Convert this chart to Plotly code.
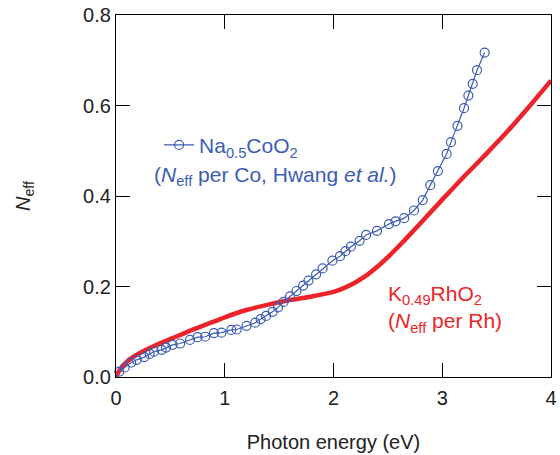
import plotly.graph_objects as go

# Na0.5CoO2 (Hwang et al.), N_eff per Co
na_x = [0.03, 0.08, 0.14, 0.19, 0.26, 0.31, 0.35, 0.42, 0.46, 0.52, 0.59, 0.68, 0.75,
        0.82, 0.90, 0.97, 1.06, 1.11, 1.20, 1.28, 1.33, 1.38, 1.44, 1.49, 1.54, 1.60,
        1.66, 1.72, 1.77, 1.84, 1.90, 1.99, 2.06, 2.11, 2.16, 2.24, 2.30, 2.40, 2.51,
        2.57, 2.65, 2.74, 2.82, 2.89, 2.96, 3.04, 3.08, 3.14, 3.20, 3.24, 3.28, 3.32, 3.39]
na_y = [0.012, 0.021, 0.032, 0.038, 0.044, 0.051, 0.056, 0.060, 0.065, 0.071, 0.074, 0.082, 0.088,
        0.089, 0.097, 0.098, 0.104, 0.105, 0.113, 0.120, 0.128, 0.135, 0.144, 0.154, 0.166, 0.178,
        0.190, 0.202, 0.213, 0.227, 0.240, 0.257, 0.267, 0.278, 0.288, 0.301, 0.314, 0.323, 0.338,
        0.344, 0.351, 0.368, 0.391, 0.424, 0.455, 0.493, 0.519, 0.555, 0.594, 0.622, 0.648, 0.678, 0.717]

# K0.49RhO2, N_eff per Rh
k_x = [0, 0.02, 0.05, 0.12, 0.25, 0.40, 0.55, 0.70, 0.86, 1.0, 1.2, 1.4, 1.6, 1.8, 2.0,
       2.1, 2.2, 2.3, 2.4, 2.5, 2.6, 2.7, 2.8, 2.9, 3.0, 3.2, 3.4, 3.6, 3.8, 4.0]
k_y = [0, 0.010, 0.020, 0.038, 0.057, 0.074, 0.089, 0.104, 0.119, 0.132, 0.148, 0.160, 0.170,
       0.178, 0.188, 0.197, 0.209, 0.224, 0.243, 0.265, 0.289, 0.314, 0.340, 0.366, 0.392,
       0.443, 0.492, 0.543, 0.598, 0.655]

x_ticks = [0, 1, 2, 3, 4]
y_ticks = [0.0, 0.2, 0.4, 0.6, 0.8]
y_tick_text = ["0.0", "0.2", "0.4", "0.6", "0.8"]

BLUE = "#3b5cb6"
RED = "#ec2329"
FONT = "Liberation Sans, Arial, Helvetica, sans-serif"

fig = go.Figure()
fig.add_trace(go.Scatter(
    x=k_x, y=k_y, mode="lines", line=dict(color=RED, width=4.5, shape="spline", smoothing=0.5),
    showlegend=False, cliponaxis=True))
fig.add_trace(go.Scatter(
    x=na_x, y=na_y, mode="lines+markers",
    name="Na<sub>0.5</sub>CoO<sub>2</sub>",
    line=dict(color=BLUE, width=1.2),
    marker=dict(symbol="circle-open", size=9, color=BLUE, line=dict(width=1.2, color=BLUE)),
    showlegend=True, cliponaxis=False))

fig.add_annotation(x=1.47, y=0.444, xref="x", yref="y",
                   text="(<i>N</i><sub>eff</sub> per Co, Hwang <i>et al.</i>)",
                   showarrow=False, font=dict(size=21, color=BLUE, family=FONT))
fig.add_annotation(x=2.48, y=0.150, xref="x", yref="y", xanchor="left", align="left",
                   text="K<sub>0.49</sub>RhO<sub>2</sub><br>(<i>N</i><sub>eff</sub> per Rh)",
                   showarrow=False, font=dict(size=21, color=RED, family=FONT))

axis_common = dict(showline=True, linecolor="black", linewidth=1.3, mirror="ticks",
                   ticks="inside", ticklen=14, tickwidth=1.3, tickcolor="black",
                   showgrid=False, zeroline=False, automargin=False,
                   tickfont=dict(size=20, color="#222", family=FONT))

fig.update_xaxes(range=[0, 4], tickvals=x_ticks, ticktext=[str(v) for v in x_ticks],
                 ticklabelstandoff=3,
                 title=dict(text="Photon energy (eV)", font=dict(size=20, color="#222", family=FONT),
                            standoff=26),
                 **axis_common)
fig.update_yaxes(range=[0, 0.8], tickvals=y_ticks, ticktext=y_tick_text,
                 title=dict(text="<i>N</i><sub>eff</sub>", font=dict(size=20, color="#222", family=FONT),
                            standoff=47),
                 **axis_common)

fig.update_layout(
    width=560, height=455,
    margin=dict(l=116, r=9, t=15, b=78),
    plot_bgcolor="white", paper_bgcolor="white",
    font=dict(family=FONT),
    legend=dict(x=0.099, y=0.64, xanchor="left", yanchor="middle",
                bgcolor="rgba(0,0,0,0)", borderwidth=0,
                font=dict(size=21, color=BLUE, family=FONT), itemwidth=30),
)

fig.write_html("out.html")
